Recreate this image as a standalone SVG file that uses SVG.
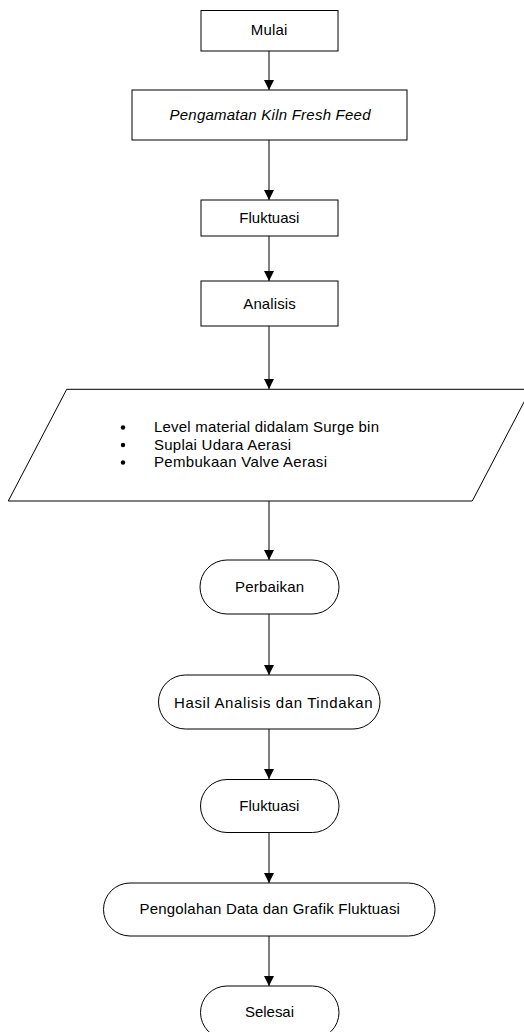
<svg xmlns="http://www.w3.org/2000/svg" width="524" height="1032" viewBox="0 0 524 1032">
  <defs>
    <marker id="arrow" viewBox="0 0 10 10" refX="10" refY="5" markerWidth="10" markerHeight="10" markerUnits="userSpaceOnUse" orient="auto">
      <path d="M0,0 L10,5 L0,10 Z" fill="#000"/>
    </marker>
    <style>
      .shape { fill: #fff; stroke: #000; stroke-width: 1; }
      .label { font-family: "Liberation Sans", Arial, sans-serif; font-size: 15px; fill: #000; text-anchor: middle; }
      .item { font-family: "Liberation Sans", Arial, sans-serif; font-size: 15px; fill: #000; }
      .link { stroke: #000; stroke-width: 1; fill: none; marker-end: url(#arrow); }
    </style>
  </defs>
  <rect width="524" height="1032" fill="#fff"/>

  <g id="connectors">
    <line class="link" x1="269" y1="51" x2="269" y2="90"/>
    <line class="link" x1="269" y1="140" x2="269" y2="200"/>
    <line class="link" x1="269" y1="236" x2="269" y2="281"/>
    <line class="link" x1="269" y1="326" x2="269" y2="389"/>
    <line class="link" x1="269" y1="501" x2="269" y2="560"/>
    <line class="link" x1="269" y1="614" x2="269" y2="675"/>
    <line class="link" x1="269" y1="729" x2="269" y2="779"/>
    <line class="link" x1="269" y1="832" x2="269" y2="883"/>
    <line class="link" x1="269" y1="936" x2="269" y2="986"/>
  </g>

  <g id="mulai">
    <rect class="shape" x="201" y="10.5" width="137" height="40.5"/>
    <text class="label" x="269" y="35" textLength="36.5">Mulai</text>
  </g>

  <g id="pengamatan">
    <rect class="shape" x="132" y="90" width="275" height="50"/>
    <text class="label" x="270" y="120" font-style="italic" textLength="201">Pengamatan Kiln Fresh Feed</text>
  </g>

  <g id="fluktuasi-1">
    <rect class="shape" x="201" y="200" width="137" height="36"/>
    <text class="label" x="269.3" y="223" textLength="60">Fluktuasi</text>
  </g>

  <g id="analisis">
    <rect class="shape" x="201" y="281" width="137" height="45"/>
    <text class="label" x="269.5" y="308.5" textLength="52.5">Analisis</text>
  </g>

  <g id="faktor">
    <polygon class="shape" points="66.7,389.3 530.7,389.3 472.3,501 8.3,501"/>
    <circle cx="123" cy="427.5" r="2.2" fill="#000"/>
    <circle cx="123" cy="445" r="2.2" fill="#000"/>
    <circle cx="123" cy="462.5" r="2.2" fill="#000"/>
    <text class="item" x="154" y="432" textLength="225">Level material didalam Surge bin</text>
    <text class="item" x="154" y="449.5" textLength="137">Suplai Udara Aerasi</text>
    <text class="item" x="154" y="467" textLength="173">Pembukaan Valve Aerasi</text>
  </g>

  <g id="perbaikan">
    <rect class="shape" x="200" y="560" width="139" height="54" rx="27" ry="27"/>
    <text class="label" x="269.5" y="592" textLength="69">Perbaikan</text>
  </g>

  <g id="hasil">
    <rect class="shape" x="158.5" y="675" width="221.5" height="54" rx="27" ry="27"/>
    <text class="label" x="273.3" y="708" textLength="198.5">Hasil Analisis dan Tindakan</text>
  </g>

  <g id="fluktuasi-2">
    <rect class="shape" x="200.5" y="779.5" width="138.5" height="53" rx="26.5" ry="26.5"/>
    <text class="label" x="269.3" y="811" textLength="60">Fluktuasi</text>
  </g>

  <g id="pengolahan">
    <rect class="shape" x="103.5" y="883" width="331.5" height="53" rx="26.5" ry="26.5"/>
    <text class="label" x="269.7" y="913.5" textLength="260.5">Pengolahan Data dan Grafik Fluktuasi</text>
  </g>

  <g id="selesai">
    <rect class="shape" x="200.5" y="986" width="138.5" height="53" rx="26.5" ry="26.5"/>
    <text class="label" x="269.5" y="1017" textLength="49">Selesai</text>
  </g>
</svg>
